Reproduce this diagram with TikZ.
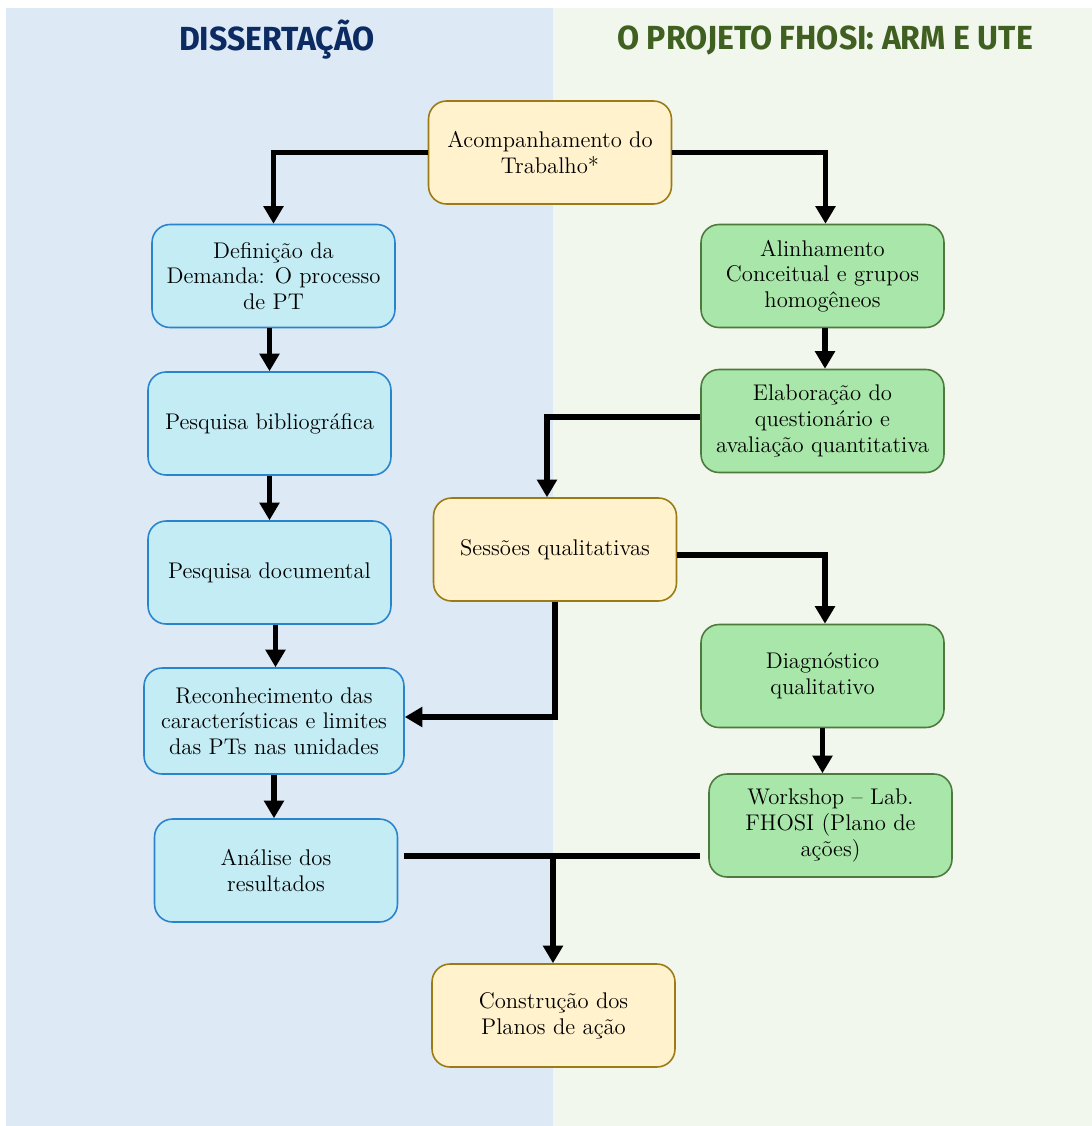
\documentclass[tikz,border=0pt]{standalone}
\usepackage{fontspec}
\usepackage{graphicx}
\usetikzlibrary{arrows.meta,calc}
\newfontfamily\headfont{Fira Sans}[UprightFont=* Bold]
\definecolor{leftbg}{HTML}{DDE9F5}
\definecolor{rightbg}{HTML}{F1F7EC}
\definecolor{navy}{HTML}{0B2B62}
\definecolor{olive}{HTML}{3F6020}
\definecolor{yfill}{HTML}{FFF2CC}
\definecolor{yline}{HTML}{9C7A14}
\definecolor{bfill}{HTML}{C3ECF5}
\definecolor{bline}{HTML}{2A84CC}
\definecolor{gfill}{HTML}{A9E6A9}
\definecolor{gline}{HTML}{4E7A3E}
\tikzset{
  box/.style={rounded corners=0.36cm, line width=0.9pt, minimum width=4.86cm,
    minimum height=2.06cm, align=center, inner sep=2pt,
    font=\fontsize{12.9}{14.6}\selectfont, text=black},
  yellowbox/.style={box, fill=yfill, draw=yline},
  bluebox/.style={box, fill=bfill, draw=bline},
  greenbox/.style={box, fill=gfill, draw=gline},
  flow/.style={line width=3.4pt, -{Triangle[length=10pt,width=11pt]}},
  plain/.style={line width=3.4pt},
  header/.style={font=\headfont\fontsize{19}{22}\selectfont},
}
\begin{document}
\begin{tikzpicture}[x=0.02cm,y=-0.02cm]
% panels
\useasboundingbox (0,0) rectangle (1092,1126);
\fill[white] (0,0) rectangle (1092,1126);
\fill[leftbg] (6,8) rectangle (553,1126);
\fill[rightbg] (553,8) rectangle (1092,1126);
% headings
\node[header, text=navy] (h1) at (277,40) {\scalebox{0.96}[1]{DISSERTAÇÃO}};
\node[header, text=olive] (h2) at (825,40) {\scalebox{0.96}[1]{O PROJETO FHOSI: ARM E UTE}};
% boxes
\node[yellowbox] (acomp) at (550,152.5) {Acompanhamento do\\Trabalho*};
\node[bluebox] (def) at (273.5,276) {Definição da\\Demanda: O processo\\de PT};
\node[bluebox] (bib) at (269.5,423.5) {Pesquisa bibliográfica};
\node[bluebox] (doc) at (269.5,572.5) {Pesquisa documental};
\node[bluebox, minimum width=5.2cm, minimum height=2.12cm] (rec) at (274,721) {Reconhecimento das\\características e limites\\das PTs nas unidades};
\node[bluebox] (ana) at (276,870.5) {Análise dos\\resultados};
\node[yellowbox] (con) at (553.5,1015.5) {Construção dos\\Planos de ação};
\node[greenbox] (ali) at (822.5,276) {Alinhamento\\Conceitual e grupos\\homogêneos};
\node[greenbox] (ela) at (822.5,421) {Elaboração do\\questionário e\\avaliação quantitativa};
\node[yellowbox] (ses) at (555,549.5) {Sessões qualitativas};
\node[greenbox] (dia) at (822.5,676) {Diagnóstico\\qualitativo};
\node[greenbox] (wk) at (830.5,825.5) {Workshop – Lab.\\FHOSI (Plano de\\ações)};
% connectors
\draw[flow] (acomp.west) -| (def.north);
\draw[flow] (acomp.east) -| ([xshift=0.06cm]ali.north);
\draw[flow] (bib.north |- def.south) -- (bib.north);
\draw[flow] (bib.south) -- (doc.north);
\draw[flow] ([xshift=0.12cm]doc.south) -- ([xshift=0.12cm]doc.south |- rec.north);
\draw[flow] (rec.south) -- (rec.south |- ana.north);
\draw[flow] ([xshift=0.05cm]ali.south) -- ([xshift=0.05cm]ela.north);
\draw[flow] ([yshift=0.08cm]ela.west) -| ([xshift=-0.16cm]ses.north);
\draw[flow] ([yshift=-0.11cm]ses.east) -| ([xshift=0.05cm]dia.north);
\draw[flow] (ses.south) |- ([yshift=0.08cm]rec.east);
\draw[flow] (dia.south) -- (dia.south |- wk.north);
\coordinate (j) at (553,856);
\draw[plain] ([xshift=0.12cm]ana.east |- j) -- ([xshift=-0.16cm]wk.west |- j);
\draw[flow] (j) -- (j |- con.north);
\end{tikzpicture}
\end{document}
